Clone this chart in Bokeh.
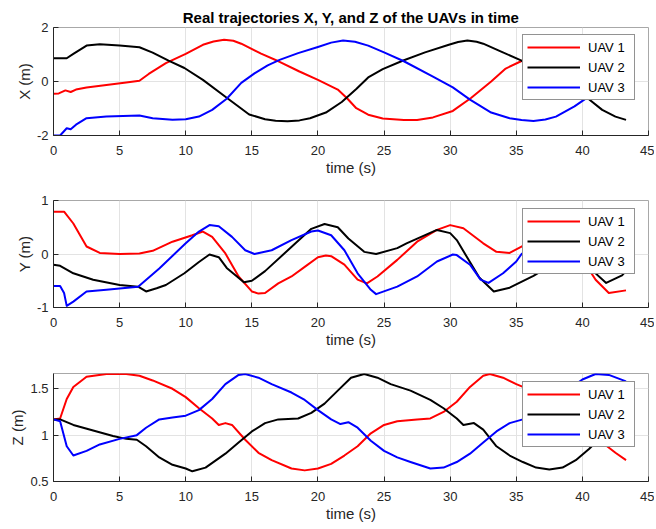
from bokeh.plotting import figure
from bokeh.models import Range1d, FixedTicker, Legend, LegendItem
from bokeh.layouts import column
from bokeh.embed import file_html
from bokeh.resources import INLINE

# ---------------- data ----------------
title_text = "Real trajectories X, Y, and Z of the UAVs in time"
series_names = ["UAV 1", "UAV 2", "UAV 3"]
series_colors = ["#ff0000", "#000000", "#0000ff"]
x_ticks = [0, 5, 10, 15, 20, 25, 30, 35, 40, 45]

# X (m)
t_x1 = [0, 0.4, 0.9, 1.3, 1.7, 2.5, 4, 5.5, 6.5, 7.2, 8.5, 10, 11.3, 12.1, 12.9, 13.6, 14.2, 15.7, 17.1, 18.6,
        20, 21.5, 22.2, 22.9, 23.8, 24.9, 26.5, 27.5, 28.7, 30.2, 31.6, 33.1, 34.2, 35.4, 37, 38.5, 40, 41.5,
        43.3]
x1 = [-0.45, -0.44, -0.33, -0.39, -0.3, -0.22, -0.13, -0.04, 0.03, 0.28, 0.68, 1.02, 1.36, 1.48, 1.55, 1.51,
      1.4, 1.03, 0.73, 0.37, 0.06, -0.3, -0.62, -0.99, -1.23, -1.37, -1.43, -1.43, -1.33, -1.09, -0.6, 0.0,
      0.48, 0.76, 1.15, 1.45, 1.53, 1.42, 1.25]
t_x2 = [0, 1, 1.5, 2.5, 3.5, 5, 6.5, 7.5, 8.7, 9.9, 11.3, 13.1, 14.8, 16, 16.8, 17.7, 18.6, 19.4, 20.6, 21.8,
        22.9, 23.8, 24.9, 26.4, 28.1, 29.9, 30.6, 31.3, 32, 32.5, 33.9, 35.4, 37, 38.5, 39.7, 40.4, 41.5, 42.5,
        43.3]
x2 = [0.86, 0.86, 1.02, 1.33, 1.38, 1.33, 1.27, 1.07, 0.77, 0.5, 0.06, -0.6, -1.22, -1.4, -1.45, -1.47,
      -1.44, -1.36, -1.15, -0.76, -0.28, 0.15, 0.46, 0.77, 1.08, 1.36, 1.46, 1.52, 1.47, 1.4, 1.1, 0.77,
      0.45, 0.05, -0.35, -0.62, -1.05, -1.3, -1.42]
t_x3 = [0, 0.5, 1, 1.3, 1.7, 2.5, 4, 6.5, 7.5, 9, 10, 11, 12, 13.1, 14.2, 15.2, 16.2, 17.1, 18.5, 20, 21,
        21.9, 22.8, 23.8, 25, 26.5, 28.7, 30.2, 31.5, 33.1, 34.5, 35.4, 36.3, 37.2, 38, 39.4, 40.5, 41.5, 42.5,
        43.3]
x3 = [-2.0, -2.0, -1.73, -1.77, -1.6, -1.36, -1.3, -1.26, -1.36, -1.42, -1.4, -1.3, -1.05, -0.64, -0.05, 0.3,
      0.6, 0.8, 1.05, 1.28, 1.44, 1.52, 1.47, 1.33, 1.08, 0.75, 0.18, -0.22, -0.67, -1.15, -1.36, -1.43,
      -1.46, -1.41, -1.3, -0.92, -0.55, -0.2, 0.1, 0.3]

# Y (m)
t_y1 = [0, 0.8, 1.5, 2.5, 3.5, 5, 6.5, 7.5, 9, 10.5, 11.3, 12, 13, 14, 15, 15.5, 16, 17, 18, 19, 20, 20.6,
        21, 22, 23, 23.7, 24.5, 26, 27.5, 29, 30, 31, 32.5, 33.5, 34.5, 35.5, 37, 38.5, 40, 41, 42, 43.3]
y1 = [0.79, 0.79, 0.57, 0.14, 0.02, 0.0, 0.01, 0.06, 0.23, 0.35, 0.42, 0.32, 0.01, -0.42, -0.7, -0.74, -0.73,
      -0.55, -0.42, -0.24, -0.06, -0.03, -0.04, -0.2, -0.48, -0.55, -0.42, -0.11, 0.23, 0.45, 0.54, 0.48,
      0.2, 0.04, 0.02, 0.15, 0.4, 0.4, -0.1, -0.48, -0.73, -0.68]
t_y2 = [0, 0.5, 1.5, 3, 5, 6.4, 7, 7.8, 8.5, 9.9, 11, 11.8, 12.5, 13.1, 14.4, 15, 16, 18.3, 19.5, 20.5, 21.5,
        22.3, 23.5, 24.4, 26, 26.7, 29, 30, 30.5, 32.2, 33.3, 34.5, 36.3, 37.1, 39, 40.5, 41.8, 43, 43.3]
y2 = [-0.2, -0.22, -0.36, -0.48, -0.58, -0.61, -0.7, -0.64, -0.58, -0.36, -0.15, -0.01, -0.06, -0.26, -0.53,
      -0.5, -0.32, 0.2, 0.47, 0.56, 0.5, 0.29, 0.04, 0.0, 0.11, 0.2, 0.45, 0.39, 0.26, -0.44, -0.7, -0.63,
      -0.41, -0.29, 0.05, -0.25, -0.54, -0.4, -0.32]
t_y3 = [0, 0.5, 0.8, 1, 1.5, 2.5, 4, 6.4, 8, 10, 11, 11.8, 12.5, 13.5, 14.5, 15.2, 16.5, 18, 19.5, 20, 21, 22,
        23, 24, 24.4, 26, 27.5, 29, 30.2, 30.5, 31.5, 32.3, 32.9, 34, 35, 35.4, 37, 38.5, 40, 41.5, 43.3]
y3 = [-0.6, -0.6, -0.73, -0.97, -0.89, -0.7, -0.67, -0.61, -0.27, 0.2, 0.42, 0.54, 0.52, 0.32, 0.07, 0.0,
      0.07, 0.26, 0.42, 0.44, 0.35, 0.07, -0.36, -0.67, -0.75, -0.61, -0.42, -0.14, -0.01, -0.02, -0.2, -0.48,
      -0.54, -0.36, -0.14, 0.0, 0.3, 0.45, 0.3, 0.1, -0.1]

# Z (m)
t_z1 = [0, 0.5, 1, 1.5, 2.5, 4, 5.5, 6.5, 7.5, 9, 10, 11, 12, 12.5, 13, 13.5, 14.5, 15.5, 16.5, 18, 19, 20,
        21, 22, 23, 24, 25, 26, 27.5, 28.5, 29.5, 30.5, 31.5, 32.5, 33, 34, 35, 35.5, 37, 38.5, 40, 41.5, 42.5,
        43.3]
z1 = [1.17, 1.18, 1.39, 1.52, 1.63, 1.66, 1.66, 1.64, 1.59, 1.5, 1.41, 1.29, 1.18, 1.11, 1.13, 1.11, 0.95,
      0.81, 0.73, 0.64, 0.62, 0.64, 0.69, 0.78, 0.88, 1.02, 1.11, 1.15, 1.17, 1.18, 1.25, 1.36, 1.52, 1.64,
      1.66, 1.62, 1.55, 1.52, 1.42, 1.3, 1.12, 0.92, 0.81, 0.73]
t_z2 = [0, 0.5, 1.5, 3, 4.5, 5.5, 6.3, 7, 8, 9, 10, 10.5, 11.5, 13, 14, 15, 16, 17, 18.5, 19.5, 20.5, 21.5,
        22.5, 23.5, 24.5, 25.5, 27, 28.5, 29.5, 30.5, 31, 31.8, 32.5, 33.5, 34.5, 35.5, 36.5, 37.5, 38.5, 39.5,
        40.5, 41, 42, 43.3]
z2 = [1.17, 1.17, 1.11, 1.05, 0.99, 0.96, 0.95, 0.88, 0.76, 0.68, 0.64, 0.61, 0.65, 0.8, 0.92, 1.04, 1.13,
      1.17, 1.18, 1.24, 1.34, 1.48, 1.62, 1.66, 1.62, 1.55, 1.48, 1.38, 1.29, 1.18, 1.11, 1.13, 1.06, 0.88,
      0.78, 0.71, 0.65, 0.63, 0.65, 0.73, 0.85, 0.92, 1.05, 1.2]
t_z3 = [0, 0.5, 1, 1.5, 2.5, 3.5, 5, 6.3, 7, 8, 9, 10, 11, 12, 13, 14, 14.5, 15.5, 16.5, 18, 19, 20, 21, 21.7,
        22.3, 23, 24, 25, 26, 27, 28.5, 29.5, 30.5, 31.5, 32.5, 33.5, 34.5, 35.5, 37, 38.5, 40, 41, 42, 43.3]
z3 = [1.17, 1.15, 0.88, 0.78, 0.83, 0.9, 0.96, 1.0, 1.08, 1.17, 1.19, 1.21, 1.27, 1.39, 1.55, 1.65, 1.66,
      1.62, 1.55, 1.46, 1.38, 1.27, 1.17, 1.12, 1.14, 1.08, 0.94, 0.83, 0.76, 0.71, 0.64, 0.65, 0.71, 0.8,
      0.92, 1.04, 1.13, 1.17, 1.3, 1.45, 1.6, 1.66, 1.65, 1.58]

panels = [
    dict(label="X (m)", yr=(-2, 2), yt=[-2, 0, 2], yl={-2: "-2", 0: "0", 2: "2"},
         data=[(t_x1, x1), (t_x2, x2), (t_x3, x3)], top=27, h=178),
    dict(label="Y (m)", yr=(-1, 1), yt=[-1, 0, 1], yl={-1: "-1", 0: "0", 1: "1"},
         data=[(t_y1, y1), (t_y2, y2), (t_y3, y3)], top=22, h=173),
    dict(label="Z (m)", yr=(0.5, 1.665), yt=[0.5, 1, 1.5], yl={0.5: "0.5", 1: "1", 1.5: "1.5"},
         data=[(t_z1, z1), (t_z2, z2), (t_z3, z3)], top=22, h=176),
]
frame_heights = [109, 107, 108]

FONT = "Liberation Sans"
AX = "#262626"
FIG_W = 654
figs = []
for i, pn in enumerate(panels):
    fh = frame_heights[i]
    p = figure(width=FIG_W, height=pn["h"], output_backend="svg", toolbar_location=None,
               x_range=Range1d(0, 45), y_range=Range1d(*pn["yr"]),
               min_border_left=53, min_border_right=6,
               min_border_top=pn["top"], min_border_bottom=pn["h"] - pn["top"] - fh)
    p.background_fill_color = "white"
    p.border_fill_color = "white"
    p.outline_line_color = "#a8a8a8"
    p.outline_line_width = 1
    if i == 0:
        p.title.text = title_text
        p.title.align = "center"
        p.title.vertical_align = "top"
        p.title.text_font = FONT
        p.title.text_font_size = "15px"
        p.title.text_font_style = "bold"
        p.title.text_color = "#000000"
        p.title.standoff = 0
    items = []
    for (tt, vv), name, col in zip(pn["data"], series_names, series_colors):
        r = p.line(tt, vv, line_color=col, line_width=2, line_join="round")
        items.append(LegendItem(label=name, renderers=[r]))
    leg = Legend(items=items, location=(469, fh - 10 - 64))
    leg.border_line_color = AX
    leg.border_line_width = 1
    leg.background_fill_color = "white"
    leg.background_fill_alpha = 1.0
    leg.label_text_font = FONT
    leg.label_text_font_size = "13px"
    leg.label_text_color = "#000000"
    leg.glyph_width = 53
    leg.glyph_height = 16
    leg.label_height = 16
    leg.label_width = 42
    leg.spacing = 4
    leg.padding = 4
    leg.label_standoff = 8
    leg.margin = 0
    p.add_layout(leg)

    for ax in (p.xaxis[0], p.yaxis[0]):
        ax.axis_line_color = AX
        ax.major_tick_line_color = AX
        ax.major_tick_in = 5
        ax.major_tick_out = 0
        ax.minor_tick_line_color = None
        ax.major_label_text_font = FONT
        ax.major_label_text_font_size = "13px"
        ax.major_label_text_color = AX
        ax.axis_label_text_font = FONT
        ax.axis_label_text_font_size = "15px"
        ax.axis_label_text_font_style = "normal"
        ax.axis_label_text_color = AX
        ax.axis_label_standoff = 1
    p.xaxis[0].ticker = FixedTicker(ticks=x_ticks)
    p.xaxis[0].axis_label = "time (s)"
    p.xaxis[0].major_label_standoff = 10
    p.yaxis[0].ticker = FixedTicker(ticks=pn["yt"])
    p.yaxis[0].major_label_overrides = pn["yl"]
    p.yaxis[0].axis_label = pn["label"]
    p.yaxis[0].major_label_standoff = 5
    p.xgrid.grid_line_color = "#e3e3e3"
    p.ygrid.grid_line_color = "#e3e3e3"
    p.xgrid.ticker = FixedTicker(ticks=x_ticks)
    p.ygrid.ticker = FixedTicker(ticks=pn["yt"])
    figs.append(p)

layout = column(*figs, spacing=0)
open("out.html", "w").write(file_html(layout, INLINE))
